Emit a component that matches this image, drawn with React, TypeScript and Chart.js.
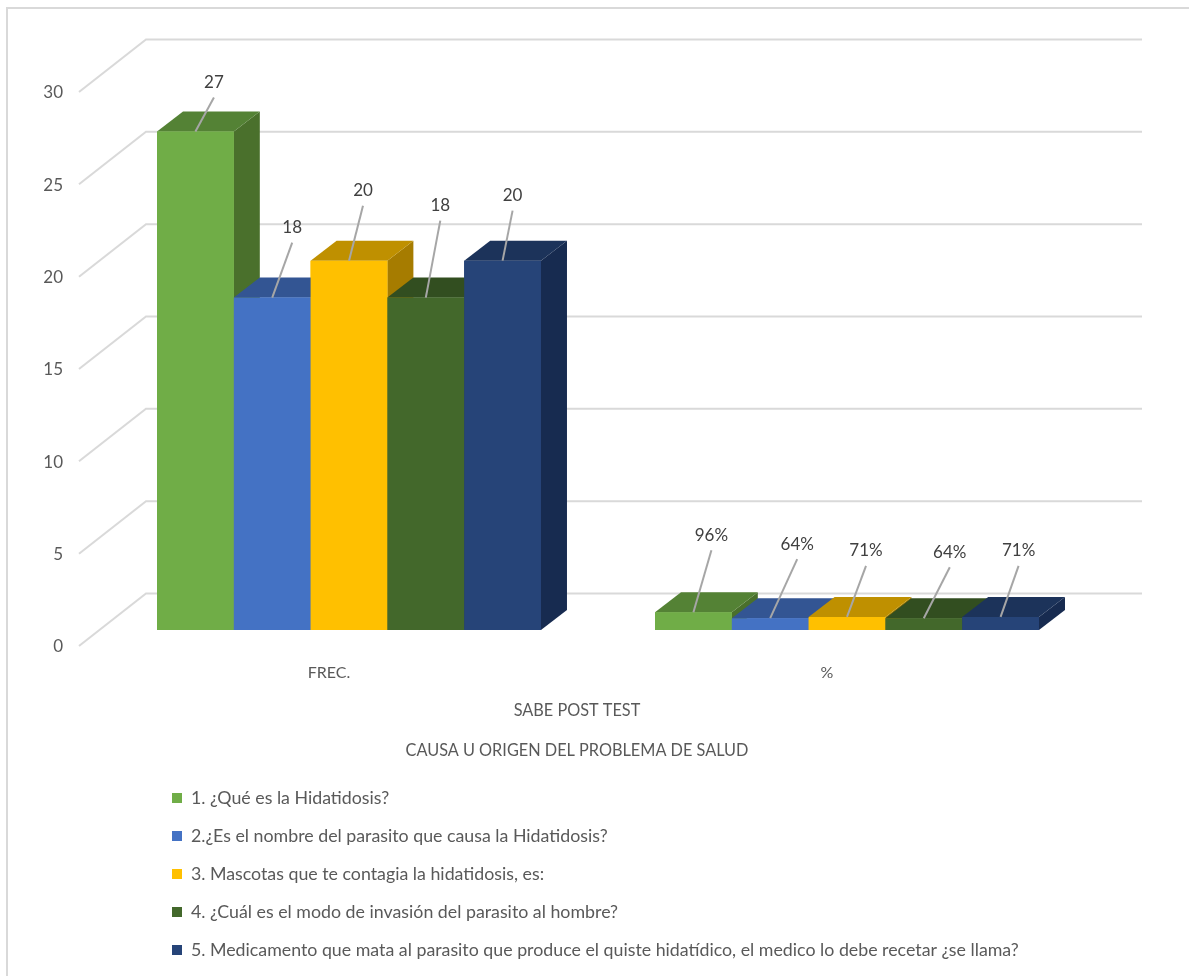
import React, { useEffect, useRef } from "react";
import { Chart, registerables } from "chart.js";

Chart.register(...registerables);

const categories = ["FREC.", "%"];
const q1Values = [27, 0.96];
const q2Values = [18, 0.64];
const q3Values = [20, 0.71];
const q4Values = [18, 0.64];
const q5Values = [20, 0.71];
const q1Label = "1. ¿Qué es la Hidatidosis?";
const q2Label = "2.¿Es el nombre del parasito que causa la Hidatidosis?";
const q3Label = "3. Mascotas que te contagia la hidatidosis, es:";
const q4Label = "4. ¿Cuál es el modo de invasión del parasito al hombre?";
const q5Label = "5. Medicamento que mata al parasito que produce el quiste hidatídico, el medico lo debe recetar ¿se llama?";
const titleLines = ["SABE POST TEST", "CAUSA U ORIGEN DEL PROBLEMA DE SALUD"];

const FONT = "Lato, Carlito, sans-serif";
const frontColors = ["#70AD47", "#4472C4", "#FFC000", "#43682B", "#264478"];
const topColors = ["#548235", "#335593", "#BF9000", "#324E20", "#1C335A"];
const sideColors = ["#4A702C", "#2D4D87", "#A67C00", "#2B431B", "#172B50"];
// Offsets of each data label from the top centre of its bar: [category][series] -> [dx, dy]
const labelOffsets = [
  [[18.5, -49], [20, -70], [14, -70], [14.5, -92], [10, -65]],
  [[18, -77], [27, -74], [19, -66], [26, -66], [18, -66]],
];
const DEPTH_X = 26;
const DEPTH_Y = -20;

const poly = (ctx: CanvasRenderingContext2D, pts: number[][], color: string) => {
  ctx.fillStyle = color;
  ctx.beginPath();
  pts.forEach((p, i) => (i ? ctx.lineTo(p[0], p[1]) : ctx.moveTo(p[0], p[1])));
  ctx.closePath();
  ctx.fill();
};

const bars3d = {
  id: "bars3d",
  afterLayout(chart: any) {
    const legend = chart.legend;
    const pad = legend.options.labels.padding;
    legend.left = 172 - pad;
    legend.right = legend.left + 1000;
    legend.top = 789 - pad;
    legend.bottom = 1100;
    legend.width = 1000;
    legend.height = 1100 - legend.top;
    const title = chart.titleBlock;
    title.left = 77;
    title.right = 1077;
    title.top = 691;
    title.bottom = 771;
  },
  beforeDraw(chart: any) {
    const ctx = chart.ctx;
    ctx.save();
    ctx.fillStyle = "#fff";
    ctx.fillRect(0, 0, chart.width, chart.height);
    ctx.strokeStyle = "#D9D9D9";
    ctx.lineWidth = 2;
    ctx.beginPath();
    ctx.moveTo(7, 976);
    ctx.lineTo(7, 8);
    ctx.lineTo(1189, 8);
    ctx.stroke();
    ctx.restore();
  },
  beforeDatasetsDraw(chart: any) {
    const { ctx, scales, chartArea } = chart;
    ctx.save();
    ctx.strokeStyle = "#D9D9D9";
    ctx.lineWidth = 2;
    scales.y.ticks.forEach((t: any) => {
      const y = scales.y.getPixelForValue(t.value);
      ctx.beginPath();
      ctx.moveTo(chartArea.left - 21, y + 16);
      ctx.lineTo(chartArea.left + 46, y - 36.5);
      ctx.lineTo(chartArea.right + 46, y - 36.5);
      ctx.stroke();
    });
    ctx.restore();
  },
  afterDatasetsDraw(chart: any) {
    const ctx = chart.ctx;
    chart.data.datasets.forEach((_: any, s: number) => {
      chart.getDatasetMeta(s).data.forEach((bar: any) => {
        const l = bar.x - bar.width / 2;
        const r = bar.x + bar.width / 2;
        const { y, base } = bar;
        poly(ctx, [[r, base], [r + DEPTH_X, base + DEPTH_Y], [r + DEPTH_X, y + DEPTH_Y], [r, y]], sideColors[s]);
        poly(ctx, [[l, y], [l + DEPTH_X, y + DEPTH_Y], [r + DEPTH_X, y + DEPTH_Y], [r, y]], topColors[s]);
        bar.draw(ctx);
      });
    });
    ctx.save();
    ctx.font = `17px ${FONT}`;
    ctx.textAlign = "center";
    ctx.textBaseline = "middle";
    chart.data.datasets.forEach((ds: any, s: number) => {
      chart.getDatasetMeta(s).data.forEach((bar: any, c: number) => {
        const [dx, dy] = labelOffsets[c][s];
        const lx = bar.x + dx;
        const ly = bar.y + dy;
        ctx.strokeStyle = "#A6A6A6";
        ctx.lineWidth = 2;
        ctx.beginPath();
        ctx.moveTo(bar.x, bar.y);
        ctx.lineTo(lx, ly + 15);
        ctx.stroke();
        ctx.fillStyle = "#404040";
        const v = ds.data[c];
        ctx.fillText(categories[c] === "%" ? `${Math.round(v * 100)}%` : String(v), lx, ly);
      });
    });
    ctx.restore();
  },
};

export default function App() {
  const ref = useRef<HTMLCanvasElement>(null);
  useEffect(() => {
    const series = [q1Values, q2Values, q3Values, q4Values, q5Values];
    const labels = [q1Label, q2Label, q3Label, q4Label, q5Label];
    const chart = new Chart(ref.current!, {
      type: "bar",
      data: {
        labels: categories,
        datasets: series.map((data, i) => ({
          label: labels[i],
          data,
          backgroundColor: frontColors[i],
          borderWidth: 0,
          categoryPercentage: 0.771,
          barPercentage: 1,
        })),
      },
      plugins: [bars3d],
      options: {
        responsive: false,
        animation: false,
        devicePixelRatio: 1,
        layout: { padding: { left: 0, top: 76, right: 93, bottom: 206 } },
        scales: {
          x: {
            grid: { display: false },
            border: { display: false },
            afterFit: (s: any) => { s.height = 60; },
            ticks: {
              padding: 25,
              labelOffset: -20,
              color: "#595959",
              font: { family: FONT, size: 16 },
              maxRotation: 0,
            },
          },
          y: {
            min: 0,
            max: 30,
            grid: { display: false, drawTicks: false },
            border: { display: false },
            afterFit: (s: any) => { s.width = 100; },
            ticks: {
              stepSize: 5,
              padding: 37,
              labelOffset: 17,
              color: "#595959",
              font: { family: FONT, size: 17 },
            },
          },
        },
        plugins: {
          tooltip: { enabled: false },
          title: {
            display: true,
            position: "bottom",
            text: titleLines,
            color: "#595959",
            padding: 0,
            font: { family: FONT, size: 16.3, weight: "normal", lineHeight: 2.454 },
          },
          legend: {
            display: true,
            position: "chartArea",
            align: "start",
            labels: {
              boxWidth: 10,
              boxHeight: 10,
              padding: 20.2,
              color: "#595959",
              font: { family: FONT, size: 17.8 },
            },
          },
        },
      } as any,
    });
    return () => chart.destroy();
  }, []);
  return (
    <canvas
      ref={ref}
      width={1189}
      height={976}
      style={{ position: "absolute", left: 0, top: 0, display: "block" }}
    />
  );
}
